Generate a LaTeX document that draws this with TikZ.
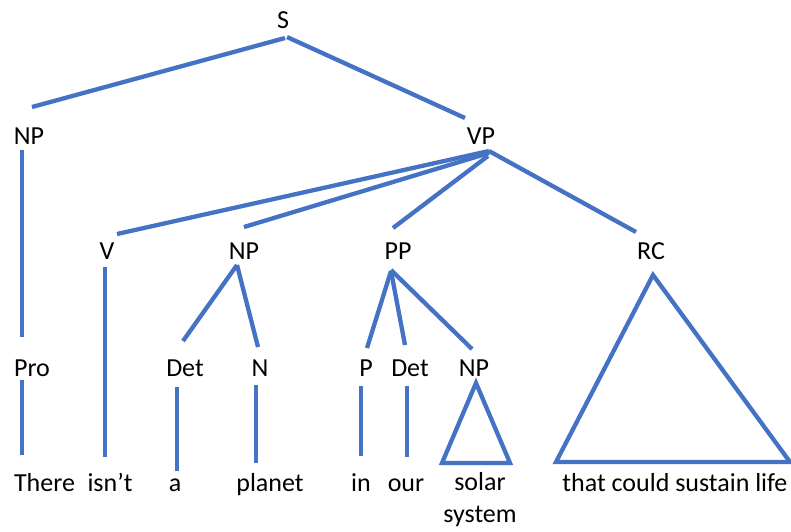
\documentclass[tikz,border=0pt]{standalone}
\usepackage{fontspec}
\setmainfont{Carlito}
\usetikzlibrary{calc}
\definecolor{treeblue}{RGB}{68,114,196}
\begin{document}
\begin{tikzpicture}[x=1pt,y=-1pt,
  lbl/.style={inner sep=0pt, anchor=base, font=\fontsize{26}{32}\selectfont, text=black},
  branch/.style={draw=treeblue, line width=4.3pt},
  tri/.style={draw=treeblue, line width=4.3pt, line join=miter}]
\useasboundingbox (0,0) rectangle (791,531);
% labels
\node[lbl] (S) at (283,28) {S};
\node[lbl] (NPa) at (29,144) {NP};
\node[lbl] (VP) at (481,144) {VP};
\node[lbl] (V) at (107,259) {V};
\node[lbl] (NPb) at (244,259) {NP};
\node[lbl] (PP) at (398,259) {PP};
\node[lbl] (RC) at (651,259) {RC};
\node[lbl] (Pro) at (32,376) {Pro};
\node[lbl] (Det) at (185,376) {Det};
\node[lbl] (N) at (260,376) {N};
\node[lbl] (P) at (366,376) {P};
\node[lbl] (Det2) at (410,376) {Det};
\node[lbl] (NPc) at (474,376) {NP};
\node[lbl] (w1) at (44.5,491) {There};
\node[lbl] (w2) at (110,491) {isn’t};
\node[lbl] (w3) at (175,491) {a};
\node[lbl] (w4) at (270,491) {planet};
\node[lbl] (w5) at (361,491) {in};
\node[lbl] (w6) at (406,491) {our};
\node[lbl, align=center, anchor=north] (w7) at (480,472) {solar\\system};
\node[lbl] (w8) at (675,491) {that could sustain life};
% branches
\draw[branch] ($(S.base)+(2,10)$) -- ($(NPa.base)+(3,-37)$);
\draw[branch] ($(S.base)+(4,9)$) -- ($(VP.base)+(-16,-26)$);
\draw[branch] ($(NPa.base)+(-7,6)$) -- ($(Pro.base)+(-10,-39)$);
\draw[branch] ($(Pro.base)+(-10,4)$) -- ($(w1.base)+(-22.5,-36)$);
\draw[branch] ($(VP.base)+(8,7)$) -- ($(V.base)+(10,-25)$);
\draw[branch] ($(VP.base)+(8,9)$) -- ($(NPb.base)+(0,-32)$);
\draw[branch] ($(VP.base)+(7,12)$) -- ($(PP.base)+(-5,-31)$);
\draw[branch] ($(VP.base)+(8,7)$) -- ($(RC.base)+(-15,-27)$);
\draw[branch] ($(V.base)+(-2,8)$) -- ($(w2.base)+(-5,-34)$);
\draw[branch] ($(NPb.base)+(-7,6)$) -- ($(Det.base)+(-2,-35)$);
\draw[branch] ($(NPb.base)+(-7,6)$) -- ($(N.base)+(-2,-29)$);
\draw[branch] ($(Det.base)+(-8,11)$) -- ($(w3.base)+(2,-20)$);
\draw[branch] ($(N.base)+(-4,9)$) -- ($(w4.base)+(-14,-28)$);
\draw[branch] ($(PP.base)+(-7,12)$) -- ($(P.base)+(1,-28)$);
\draw[branch] ($(PP.base)+(-7,12)$) -- ($(Det2.base)+(-5,-31)$);
\draw[branch] ($(PP.base)+(-7,11)$) -- ($(NPc.base)+(-2,-27)$);
\draw[branch] ($(P.base)+(-5,10)$) -- ($(w5.base)+(0,-35)$);
\draw[branch] ($(Det2.base)+(-3,10)$) -- ($(w6.base)+(1,-34)$);
% triangles
\draw[tri] ($(NPc.base)+(2,7)$) -- ($(w7.north)+(-38,-9)$) -- ($(w7.north)+(30,-9)$) -- cycle;
\draw[tri] ($(RC.base)+(2,16)$) -- ($(w8.base)+(-119,-29)$) -- ($(w8.base)+(115,-29)$) -- cycle;
\end{tikzpicture}
\end{document}
